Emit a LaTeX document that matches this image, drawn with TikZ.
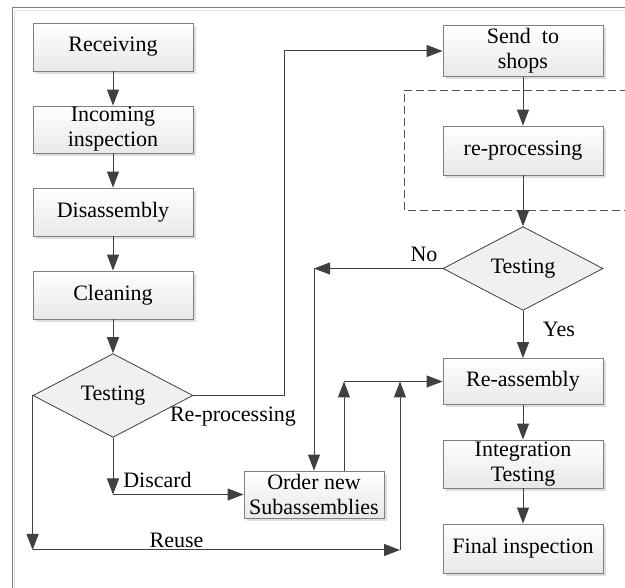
\documentclass[tikz,border=0pt]{standalone}
\usepackage{fontspec}
\setmainfont{Liberation Serif}
\newfontfamily\diagfont{Liberation Serif}
\usetikzlibrary{arrows.meta,shapes.geometric,shadows,calc}

\definecolor{linegray}{HTML}{404040}
\definecolor{boxedge}{HTML}{7F7F7F}
\definecolor{framegray}{HTML}{808080}
\definecolor{dashgray}{HTML}{555555}

\begin{document}
\begin{tikzpicture}[x=1pt,y=-1pt,
  font=\diagfont\fontsize{22}{25}\selectfont,
  stepbox/.style={rectangle, draw=boxedge, line width=0.9pt,
    top color=white, bottom color=black!9,
    minimum width=160pt, inner sep=0pt, align=center,
    drop shadow={shadow xshift=3pt, shadow yshift=-3pt, fill=black!13, opacity=1}},
  decision/.style={diamond, draw=linegray, line width=0.8pt, fill=black!6,
    minimum width=160pt, minimum height=83pt, inner sep=0pt},
  flow/.style={draw=linegray, line width=1pt},
  arr/.style={flow, -{Triangle[length=16pt,width=12pt]}},
  lbl/.style={inner sep=0pt, anchor=base}
]
\useasboundingbox (0,0) rectangle (625,588);
\fill[white] (0,0) rectangle (625,588);

% outer frame
\draw[black!12, line width=1pt] (14.5,600) -- (14.5,10.5) -- (640,10.5);
\draw[framegray, line width=1pt] (12.5,600) -- (12.5,8) -- (640,8);

% dashed region around the shop work
\draw[dashgray, line width=0.8pt, dash pattern=on 8pt off 4pt]
  (640,90) -- (404,90) -- (404,210) -- (640,210);

% process steps
\node[stepbox, minimum height=48pt] (recv)  at (113,47)    {Receiving};
\node[stepbox, minimum height=47pt] (inc)   at (113,129.5) {Incoming\\inspection};
\node[stepbox, minimum height=48pt] (dis)   at (113,212)   {Disassembly};
\node[stepbox, minimum height=48pt] (clean) at (113,295)   {Cleaning};
\node[decision] (test1) at (113,395.5) {Testing};

\node[stepbox, minimum height=51pt] (send)  at (523,51)    {Send~ to\\shops};
\node[stepbox, minimum height=49pt] (rep)   at (523,150.5) {re-processing};
\node[decision] (test2) at (523,268.5) {Testing};
\node[stepbox, minimum height=46pt] (reas)  at (523,381.5) {Re-assembly};
\node[stepbox, minimum height=48pt] (integ) at (523,464)   {Integration\\Testing};
\node[stepbox, minimum height=49pt] (final) at (523,548.5) {Final inspection};

\node[stepbox, minimum width=140pt, minimum height=47pt] (order) at (314,494.5)
  {Order new\\Subassemblies};

% helper points for the routed connectors
\coordinate (rpcol) at (284,0);
\coordinate (nocorner) at (test2.west -| order.north);
\coordinate (dcorner) at (test1.south |- order.west);
\coordinate (reuseend) at (400,550);
\coordinate (rcorner) at (test1.west |- reuseend);
\coordinate (mergeB) at (reuseend |- reas.west);
\coordinate (oup) at ($(order.north)+(30,0)$);
\coordinate (mergeA) at (oup |- reas.west);

% main flow
\draw[arr] (recv) -- (inc);
\draw[arr] (inc) -- (dis);
\draw[arr] (dis) -- (clean);
\draw[arr] (clean) -- (test1);
\draw[arr] (send) -- (rep);
\draw[arr] (rep) -- (test2);
\draw[arr] (test2) -- (reas);
\draw[arr] (reas) -- (integ);
\draw[arr] (integ) -- (final);

% re-processing branch
\draw[arr] (test1.east) -- (test1.east -| rpcol) -- (send.west -| rpcol) -- (send.west);

% failed re-test
\draw[arr] (test2.west) -- (nocorner);
\draw[arr] (nocorner) -- (order.north);

% discard branch
\draw[arr] (test1.south) -- (dcorner);
\draw[arr] (dcorner) -- (order.west);

% reuse branch
\draw[arr] (test1.west) -- (rcorner);
\draw[arr] (rcorner) -- (reuseend);
\draw[arr] (reuseend) -- (mergeB);

% new parts to re-assembly
\draw[arr] (oup) -- (mergeA);
\draw[arr] (mergeA) -- (reas.west);

% branch labels
\node[lbl] (lno)    at (424,262)   {No};
\node[lbl] (lyes)   at (559,337)   {Yes};
\node[lbl] (lrep)   at (233,422)   {Re-processing};
\node[lbl] (ldis)   at (157.5,488) {Discard};
\node[lbl] (lreuse) at (176.5,548) {Reuse};
\end{tikzpicture}
\end{document}
